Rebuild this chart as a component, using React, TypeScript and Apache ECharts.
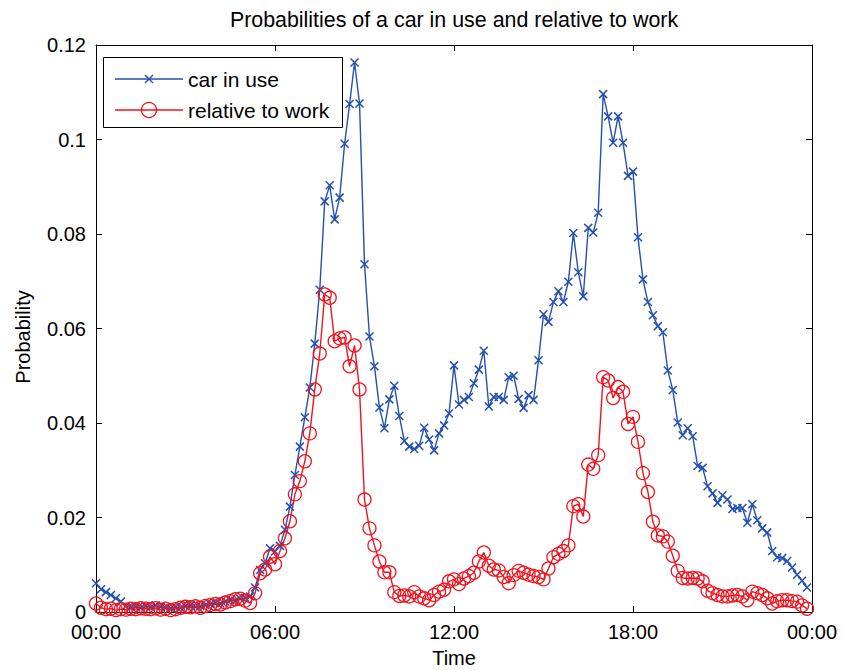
import React, { useEffect, useRef } from "react";
import * as echarts from "echarts";

// Samples every 10 minutes, starting at 00:00
const STEP_MINUTES = 10;

const carInUse = [
  0.0061, 0.0048, 0.0042, 0.0036, 0.0029, 0.0022, 0.0012, 0.0010, 0.0011, 0.0009,
  0.0012, 0.0010, 0.0014, 0.0011, 0.0009, 0.0008, 0.0010, 0.0009, 0.0012, 0.0014,
  0.0011, 0.0013, 0.0015, 0.0017, 0.0019, 0.0018, 0.0022, 0.0025, 0.0024, 0.0028,
  0.0030, 0.0033, 0.0052, 0.0089, 0.0103, 0.0135, 0.0128, 0.0140, 0.0174, 0.0223,
  0.0290, 0.0350, 0.0412, 0.0475, 0.0568, 0.0682, 0.0869, 0.0903, 0.0831, 0.0877,
  0.0991, 0.1075, 0.1163, 0.1076, 0.0736, 0.0583, 0.0520, 0.0433, 0.0389, 0.0450,
  0.0479, 0.0415, 0.0362, 0.0350, 0.0345, 0.0352, 0.0390, 0.0365, 0.0342, 0.0378,
  0.0395, 0.0420, 0.0522, 0.0439, 0.0449, 0.0455, 0.0484, 0.0513, 0.0553, 0.0435,
  0.0455, 0.0455, 0.0449, 0.0497, 0.0500, 0.0451, 0.0432, 0.0459, 0.0449, 0.0533,
  0.0630, 0.0614, 0.0656, 0.0679, 0.0656, 0.0699, 0.0802, 0.0719, 0.0668, 0.0813,
  0.0803, 0.0845, 0.1096, 0.1049, 0.0993, 0.1049, 0.0993, 0.0923, 0.0932, 0.0793,
  0.0704, 0.0656, 0.0628, 0.0605, 0.0592, 0.0511, 0.0470, 0.0401, 0.0374, 0.0389,
  0.0372, 0.0309, 0.0305, 0.0266, 0.0251, 0.0231, 0.0247, 0.0238, 0.0218, 0.0220,
  0.0220, 0.0189, 0.0228, 0.0194, 0.0177, 0.0168, 0.0129, 0.0116, 0.0114, 0.0108,
  0.0094, 0.0079, 0.0066, 0.0052,
];

const relativeToWork = [
  0.0018, 0.0009, 0.0006, 0.0007, 0.0004, 0.0006, 0.0005, 0.0007, 0.0006, 0.0008,
  0.0007, 0.0006, 0.0008, 0.0005, 0.0007, 0.0004, 0.0006, 0.0009, 0.0011, 0.0010,
  0.0012, 0.0009, 0.0013, 0.0015, 0.0017, 0.0016, 0.0020, 0.0023, 0.0027, 0.0028,
  0.0024, 0.0019, 0.0040, 0.0082, 0.0090, 0.0117, 0.0101, 0.0129, 0.0156, 0.0192,
  0.0249, 0.0277, 0.0319, 0.0378, 0.0471, 0.0547, 0.0672, 0.0665, 0.0573, 0.0579,
  0.0581, 0.0520, 0.0564, 0.0471, 0.0238, 0.0177, 0.0141, 0.0107, 0.0084, 0.0084,
  0.0042, 0.0034, 0.0035, 0.0033, 0.0042, 0.0033, 0.0029, 0.0025, 0.0036, 0.0043,
  0.0047, 0.0065, 0.0069, 0.0059, 0.0071, 0.0076, 0.0083, 0.0107, 0.0126, 0.0098,
  0.0090, 0.0088, 0.0074, 0.0061, 0.0078, 0.0087, 0.0083, 0.0079, 0.0076, 0.0074,
  0.0069, 0.0092, 0.0116, 0.0123, 0.0129, 0.0141, 0.0224, 0.0228, 0.0202, 0.0312,
  0.0303, 0.0332, 0.0497, 0.0490, 0.0453, 0.0476, 0.0466, 0.0398, 0.0413, 0.0360,
  0.0294, 0.0254, 0.0191, 0.0162, 0.0160, 0.0149, 0.0119, 0.0087, 0.0072, 0.0071,
  0.0072, 0.0071, 0.0065, 0.0045, 0.0040, 0.0036, 0.0033, 0.0033, 0.0035, 0.0036,
  0.0033, 0.0025, 0.0043, 0.0040, 0.0036, 0.0029, 0.0018, 0.0023, 0.0025, 0.0025,
  0.0023, 0.0022, 0.0014, 0.0007,
];

const timeTickLabels = ["00:00", "06:00", "12:00", "18:00", "00:00"];
const TIME_TICK_MINUTES = 360;

const seriesNames = ["car in use", "relative to work"];

const BLUE = "#2450b0";
const RED = "#f0141e";
const FONT = "'Liberation Sans', Arial, Helvetica, sans-serif";

const toPoints = (values: number[]) => values.map((v, i) => [i * STEP_MINUTES, v]);

const tickStyle = { show: true, inside: true, length: 6, lineStyle: { color: "#000", width: 1 } };
const lineStyleAxis = { show: true, onZero: false, lineStyle: { color: "#000", width: 1 } };

function buildOption(): echarts.EChartsOption {
  const xBase = {
    type: "value" as const,
    min: 0,
    max: 1440,
    interval: TIME_TICK_MINUTES,
    splitLine: { show: false },
    axisLine: lineStyleAxis,
    axisTick: tickStyle,
  };
  const yBase = {
    type: "value" as const,
    min: 0,
    max: 0.12,
    interval: 0.02,
    splitLine: { show: false },
    axisLine: lineStyleAxis,
    axisTick: tickStyle,
  };
  const textStyle = (text: string, size: number, align: string) =>
    ({
      text,
      fill: "#000",
      fontSize: size,
      fontFamily: FONT,
      align,
      verticalAlign: "middle",
      textAlign: align,
      textVerticalAlign: "middle",
    } as any);
  return {
    animation: false,
    backgroundColor: "#fff",
    grid: { left: 96, right: 31, top: 45, bottom: 58, containLabel: false },
    xAxis: [
      {
        ...xBase,
        position: "bottom",
        axisLabel: {
          show: true,
          margin: 10,
          color: "#000",
          fontSize: 20,
          lineHeight: 20,
          fontFamily: FONT,
          formatter: (v: number) => timeTickLabels[Math.round(v / TIME_TICK_MINUTES)] ?? "",
        },
      },
      { ...xBase, position: "top", axisLabel: { show: false } },
    ],
    yAxis: [
      {
        ...yBase,
        position: "left",
        axisLabel: {
          show: true,
          margin: 10,
          color: "#000",
          fontSize: 20,
          lineHeight: 20,
          fontFamily: FONT,
          formatter: (v: number) => String(+v.toFixed(2)),
        },
      },
      { ...yBase, position: "right", axisLabel: { show: false } },
    ],
    series: [
      {
        name: seriesNames[0],
        type: "line",
        xAxisIndex: 0,
        yAxisIndex: 0,
        data: toPoints(carInUse),
        clip: false,
        showAllSymbol: true,
        symbol: "path://M0,0L10,10M10,0L0,10",
        symbolSize: 8,
        lineStyle: { color: BLUE, width: 1.4 },
        itemStyle: { color: "rgba(0,0,0,0)", borderColor: BLUE, borderWidth: 1.5 },
        emphasis: { disabled: true },
        silent: true,
      },
      {
        name: seriesNames[1],
        type: "line",
        xAxisIndex: 0,
        yAxisIndex: 0,
        data: toPoints(relativeToWork),
        clip: false,
        showAllSymbol: true,
        symbol: "circle",
        symbolSize: 13,
        lineStyle: { color: RED, width: 1.4 },
        itemStyle: { color: "rgba(0,0,0,0)", borderColor: RED, borderWidth: 1.3 },
        emphasis: { disabled: true },
        silent: true,
      },
    ],
    graphic: [
      {
        type: "text",
        x: 454,
        y: 20,
        z: 100,
        style: textStyle("Probabilities of a car in use and relative to work", 21.4, "center"),
      },
      {
        type: "text",
        x: 454,
        y: 658,
        z: 100,
        style: textStyle("Time", 20, "center"),
      },
      {
        type: "text",
        x: 23,
        y: 337,
        rotation: Math.PI / 2,
        z: 100,
        style: textStyle("Probability", 20, "center"),
      },
      // legend box
      {
        type: "group",
        z: 100,
        children: [
          {
            type: "rect",
            shape: { x: 103.5, y: 57.5, width: 239, height: 70 },
            style: { fill: "#fff", stroke: "#000", lineWidth: 1 },
          },
          {
            type: "line",
            shape: { x1: 115, y1: 79, x2: 183, y2: 79 },
            style: { stroke: BLUE, lineWidth: 1.3 },
          },
          {
            type: "line",
            shape: { x1: 145, y1: 75, x2: 153, y2: 83 },
            style: { stroke: BLUE, lineWidth: 1.5 },
          },
          {
            type: "line",
            shape: { x1: 153, y1: 75, x2: 145, y2: 83 },
            style: { stroke: BLUE, lineWidth: 1.5 },
          },
          {
            type: "line",
            shape: { x1: 115, y1: 110, x2: 183, y2: 110 },
            style: { stroke: RED, lineWidth: 1.3 },
          },
          {
            type: "circle",
            shape: { cx: 149, cy: 110, r: 7.5 },
            style: { fill: "rgba(0,0,0,0)", stroke: RED, lineWidth: 1.3 },
          },
          {
            type: "text",
            x: 188,
            y: 79,
            style: textStyle(seriesNames[0], 21, "left"),
          },
          {
            type: "text",
            x: 188,
            y: 110,
            style: textStyle(seriesNames[1], 21, "left"),
          },
        ],
      },
    ],
  };
}

export default function App() {
  const ref = useRef<HTMLDivElement>(null);
  useEffect(() => {
    if (!ref.current) return;
    const chart = echarts.init(ref.current, null, { renderer: "svg" });
    chart.setOption(buildOption());
    return () => chart.dispose();
  }, []);
  return (
    <div
      ref={ref}
      style={{ position: "absolute", left: 0, top: 0, width: 843, height: 670, background: "#fff" }}
    />
  );
}
